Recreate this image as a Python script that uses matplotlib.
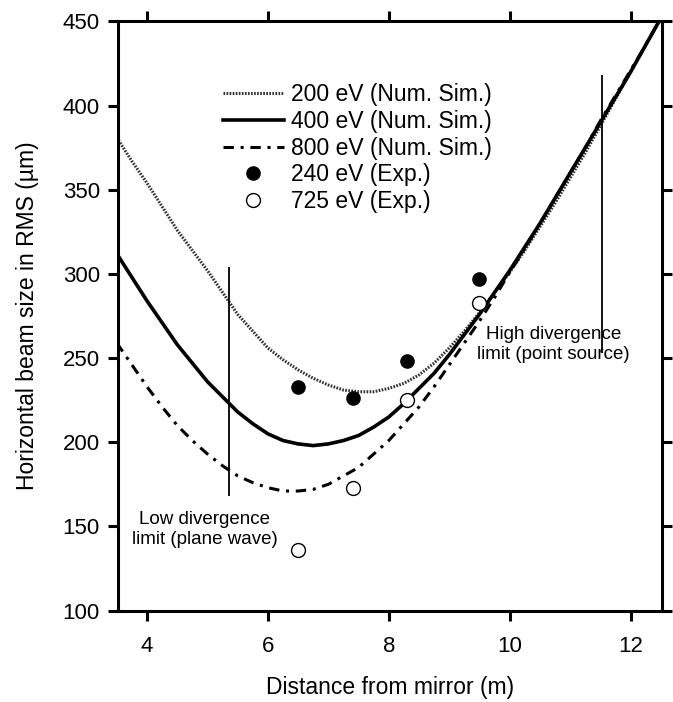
import numpy as np
import matplotlib
matplotlib.use("Agg")
import matplotlib.pyplot as plt

plt.rcParams['font.family'] = ['Liberation Sans', 'DejaVu Sans']

# distance from mirror (m) where the simulated curves were read
z_sim = [3.5, 3.75, 4.0, 4.25, 4.5, 4.75, 5.0, 5.25, 5.5, 5.75,
         6.0, 6.25, 6.5, 6.75, 7.0, 7.25, 7.5, 7.75, 8.0, 8.25,
         8.5, 8.75, 9.0, 9.25, 9.5, 9.75, 10.0, 10.25, 10.5, 10.75,
         11.0, 11.25, 11.5, 11.75, 12.0, 12.25, 12.5]
# RMS beam size (um) of the numerical simulations
sim_200 = [381, 367, 354, 340, 326, 314, 302, 289, 276, 266,
           256, 249, 243, 238, 234, 231, 230, 230, 232, 235,
           240, 247, 256, 266, 277, 289, 301, 314, 328, 342,
           357, 372, 388, 404, 420, 436, 452]
sim_400 = [312, 298, 284, 271, 258, 247, 236, 227, 218, 211,
           205, 201, 199, 198, 199, 201, 204, 209, 215, 223,
           232, 241, 252, 264, 276, 289, 302, 316, 330, 345,
           360, 375, 390, 405, 420, 436, 452]
sim_800 = [259, 246, 233, 221, 210, 201, 193, 186, 180, 176,
           173, 171, 171, 172, 175, 180, 185, 193, 201, 211,
           221, 233, 246, 259, 272, 286, 301, 315, 330, 345,
           360, 375, 391, 406, 421, 436, 452]

# experimental points
z_exp = [6.5, 7.4, 8.3, 9.5]
exp_240 = [233, 226, 248, 297]
exp_725 = [136, 173, 225, 283]

# divergence limit markers: x position and vertical extent
low_lim = (5.36, 168, 304)
high_lim = (11.52, 253, 418)

fig = plt.figure(figsize=(6.73, 7.02), dpi=100)
ax = fig.add_axes([0.1753, 0.1303, 0.9837 - 0.1753, 0.9694 - 0.1303])

ax.plot(z_sim, sim_200, color='0.2', lw=2.2, ls=(0, (0.55, 0.45)),
        label='200 eV (Num. Sim.)')
ax.plot(z_sim, sim_400, color='black', lw=2.6, ls='-',
        label='400 eV (Num. Sim.)')
ax.plot(z_sim, sim_800, color='black', lw=2.2, ls=(0, (3.4, 2.2, 1.0, 2.2)),
        label='800 eV (Num. Sim.)')
ax.plot(z_exp, exp_240, 'o', color='black', ms=9.5, ls='none',
        label='240 eV (Exp.)')
ax.plot(z_exp, exp_725, 'o', mfc='white', mec='black', mew=1.0, ms=10,
        ls='none', label='725 eV (Exp.)')

ax.vlines(low_lim[0], low_lim[1], low_lim[2], color='black', lw=1.3)
ax.vlines(high_lim[0], high_lim[1], high_lim[2], color='black', lw=1.3)

ax.text(4.95, 148, 'Low divergence\nlimit (plane wave)', ha='center',
        va='center', fontsize=13.5, linespacing=1.25)
ax.text(10.72, 258, 'High divergence\nlimit (point source)', ha='center',
        va='center', fontsize=13.5, linespacing=1.25)

ax.set_xlim(3.52, 12.52)
ax.set_ylim(100, 450)
ax.set_xticks([4, 6, 8, 10, 12])
ax.set_yticks(np.arange(100, 451, 50))

ax.tick_params(direction='out', length=7, width=2.2, labelsize=16,
               top=True, right=True, pad=6)
ax.tick_params(axis='x', pad=11)
for s in ax.spines.values():
    s.set_linewidth(2.2)

ax.set_xlabel('Distance from mirror (m)', fontsize=16.5, labelpad=14)
ax.set_ylabel('Horizontal beam size in RMS (µm)', fontsize=16.5, labelpad=17)

ax.legend(loc='upper left', bbox_to_anchor=(0.193, 0.896), frameon=False,
          fontsize=16.5, handlelength=2.66, handletextpad=0.3,
          labelspacing=0.17, borderpad=0, borderaxespad=0)

fig.savefig('out.png', dpi=100)
